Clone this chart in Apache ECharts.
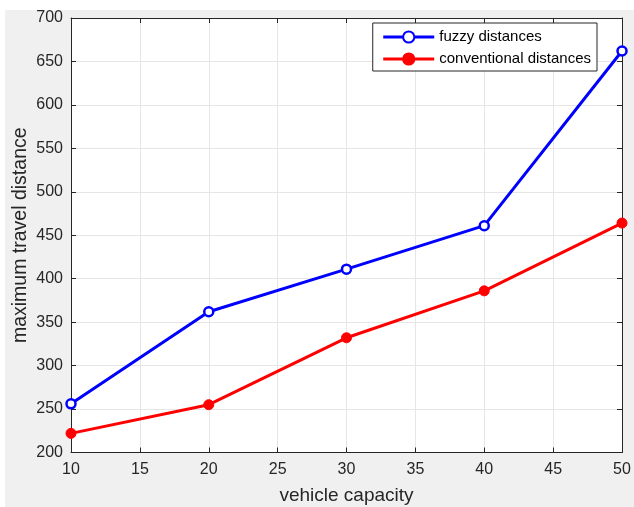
<!DOCTYPE html>
<html><head><meta charset="utf-8">
<script src="https://cdn.jsdelivr.net/npm/echarts@6/dist/echarts.min.js"></script>
<style>html,body{margin:0;padding:0;background:#fff}#c{width:634px;height:507px}</style>
</head><body><div id="c"></div>
<script>
const capacities = [10, 20, 30, 40, 50];
const fuzzyDistances = [256, 362, 411, 461, 662];
const conventionalDistances = [222, 255, 332, 386, 464];
const seriesNames = ['fuzzy distances', 'conventional distances'];
const xName = 'vehicle capacity';
const yName = 'maximum travel distance';

const chart = echarts.init(document.getElementById('c'), null, {renderer: 'canvas'});
const font = 'Liberation Sans, Arial, Helvetica, sans-serif';
const baseAxis = {
  axisLine: {show: true, onZero: false, lineStyle: {color: '#262626', width: 1}},
  axisTick: {show: true, inside: true, length: 5, lineStyle: {color: '#262626'}},
  splitLine: {show: false}
};
chart.setOption({
  backgroundColor: '#fff',
  animation: false,
  graphic: [{type: 'rect', z: -10, silent: true, shape: {x: 5, y: 10, width: 629, height: 497}, style: {fill: '#f0f0f0'}}],
  grid: {left: 71, right: 12, top: 18, bottom: 54.5, show: true, backgroundColor: '#fff', borderWidth: 0,
         containLabel: false, outerBoundsMode: 'none'},
  legend: {
    right: 37, top: 23, orient: 'vertical',
    backgroundColor: '#fff', borderColor: '#262626', borderWidth: 1, borderRadius: 0,
    padding: [6, 6, 4, 9], itemGap: 6, itemWidth: 51, itemHeight: 14,
    lineStyle: {width: 3},
    textStyle: {fontFamily: font, fontSize: 15, lineHeight: 16, color: '#000'},
    data: seriesNames
  },
  xAxis: [
    Object.assign({}, baseAxis, {
      type: 'value', min: 10, max: 50, interval: 5, position: 'bottom',
      name: xName, nameLocation: 'middle', nameGap: 34, nameMoveOverlap: false,
      nameTextStyle: {fontFamily: font, fontSize: 19, color: '#262626'},
      axisLabel: {margin: 9, fontFamily: font, fontSize: 16, color: '#262626'},
      splitLine: {show: true, lineStyle: {color: '#e6e6e6', width: 1}}
    }),
    Object.assign({}, baseAxis, {
      type: 'value', min: 10, max: 50, interval: 5, position: 'top',
      axisLabel: {show: false}
    })
  ],
  yAxis: [
    Object.assign({}, baseAxis, {
      type: 'value', min: 200, max: 700, interval: 50, position: 'left',
      name: yName, nameLocation: 'middle', nameGap: 40, nameMoveOverlap: false,
      nameTextStyle: {fontFamily: font, fontSize: 19.5, color: '#262626'},
      axisLabel: {margin: 8, fontFamily: font, fontSize: 16, color: '#262626'},
      splitLine: {show: true, lineStyle: {color: '#e6e6e6', width: 1}}
    }),
    Object.assign({}, baseAxis, {
      type: 'value', min: 200, max: 700, interval: 50, position: 'right',
      axisLabel: {show: false}
    })
  ],
  series: [
    {
      name: seriesNames[0], type: 'line',
      data: capacities.map((c, i) => [c, fuzzyDistances[i]]),
      lineStyle: {color: '#0000ff', width: 3},
      itemStyle: {color: '#fff', borderColor: '#0000ff', borderWidth: 2.5},
      symbol: 'circle', symbolSize: 9, showAllSymbol: true, z: 3
    },
    {
      name: seriesNames[1], type: 'line',
      data: capacities.map((c, i) => [c, conventionalDistances[i]]),
      lineStyle: {color: '#ff0000', width: 3},
      itemStyle: {color: '#ff0000', borderColor: '#ff0000', borderWidth: 1},
      symbol: 'circle', symbolSize: 10, showAllSymbol: true, z: 3
    }
  ]
});
</script></body></html>
